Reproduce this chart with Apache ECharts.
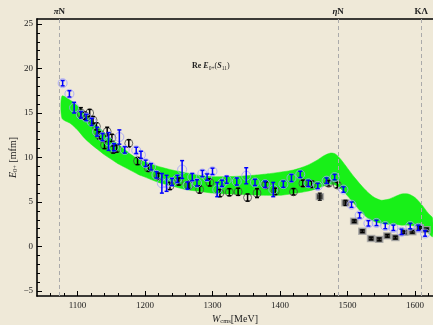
<!DOCTYPE html>
<html><head><meta charset="utf-8">
<script src="https://cdn.jsdelivr.net/npm/echarts@6/dist/echarts.min.js"></script>
<style>html,body{margin:0;padding:0;background:#efe9d8}#c{width:433px;height:325px}</style>
</head><body><div id="c"></div>
<script>
// Band (fit uncertainty) in MeV / mfm
var bandX    = [1077,1090,1100,1110,1120,1130,1140,1150,1160,1170,1180,1190,1200,1220,1240,1260,1280,1300,1320,1340,1360,1380,1400,1420,1440,1455,1465,1475,1482,1490,1500,1510,1520,1530,1540,1550,1560,1570,1580,1590,1600,1610,1620,1626];
var bandLow  = [14.4,13.8,13.1,12.2,11.5,10.9,10.3,9.8,9.3,8.9,8.5,8.1,7.8,7.2,6.8,6.4,6.2,6.0,5.9,5.85,5.8,5.75,5.75,5.95,6.2,6.5,6.8,7.0,6.9,6.5,5.7,4.8,3.9,3.2,2.8,2.6,2.5,2.5,2.4,2.4,2.3,2.0,1.5,1.1];
var bandHigh = [16.9,16.4,15.8,15.1,14.3,13.5,12.8,12.1,11.5,10.9,10.3,9.8,9.5,9.0,8.6,8.3,8.0,7.85,7.85,7.9,8.0,8.15,8.35,8.6,9.1,9.7,10.2,10.5,10.4,9.8,8.8,7.8,6.9,6.1,5.5,5.2,5.3,5.6,5.9,5.9,5.5,4.7,3.7,3.2];

// Data set A (blue): [W, E0+, error]
var blueData = [[1078,18.35,0.3],[1088,17.15,0.35],[1095,15.6,0.6],[1105,14.8,0.35],[1113,14.5,0.35],[1121,14.0,0.4],[1129,12.9,0.5],[1137,12.3,0.4],[1146,11.8,1.0],[1154,11.15,0.4],[1162,12.3,0.8],[1170,10.85,0.35],[1187,10.8,0.35],[1194,10.3,0.4],[1201,9.35,0.35],[1209,8.96,0.35],[1217,8.05,0.35],[1225,7.1,1.1],[1232,7.1,0.9],[1240,7.25,0.4],[1248,7.6,0.4],[1255,8.65,1.0],[1263,6.85,0.4],[1270,7.8,0.4],[1277,7.15,0.35],[1285,8.2,0.35],[1292,7.8,0.35],[1300,8.45,0.35],[1307,6.4,0.8],[1314,7.1,0.35],[1321,7.5,0.4],[1336,7.3,0.4],[1350,7.95,0.9],[1363,7.2,0.35],[1378,7.0,0.35],[1390,6.4,0.8],[1405,7.0,0.35],[1417,7.7,0.4],[1430,8.1,0.35],[1442,7.1,0.35],[1456,6.8,0.3],[1469,7.4,0.3],[1481,7.8,0.3],[1494,6.4,0.3],[1506,4.7,0.3],[1518,3.5,0.3],[1531,2.6,0.3],[1543,2.65,0.3],[1556,2.3,0.3],[1568,2.1,0.3],[1580,1.65,0.3],[1593,2.3,0.3],[1605,2.1,0.3],[1615,1.46,0.3]];
// Data set B (black, circles)
var blackData = [[1105,15.0,0.6],[1111,14.7,0.4],[1118,15.0,0.4],[1123,14.2,0.4],[1128,13.5,0.4],[1132,12.5,0.4],[1140,11.4,0.4],[1144,12.9,0.5],[1151,12.2,0.4],[1153,10.9,0.4],[1158,11.0,0.4],[1176,11.6,0.4],[1189,9.6,0.4],[1205,8.8,0.35],[1220,7.9,0.35],[1237,6.8,0.4],[1250,7.3,0.4],[1265,6.9,0.4],[1281,6.4,0.4],[1296,7.2,0.4],[1311,6.0,0.4],[1325,6.1,0.4],[1338,6.15,0.4],[1352,5.5,0.4],[1366,6.0,0.5],[1379,6.9,0.35],[1393,6.2,0.35],[1420,6.15,0.35],[1434,7.1,0.35],[1447,7.0,0.35],[1472,7.1,0.3],[1485,6.9,0.3]];
// Data set C (squares)
var squareData = [[1459,5.6,0.4],[1497,4.9,0.3],[1510,2.85,0.15],[1522,1.72,0.15],[1535,0.9,0.15],[1547,0.8,0.15],[1559,1.2,0.15],[1571,1.0,0.15],[1584,1.6,0.15],[1596,1.65,0.15],[1607,2.1,0.15],[1617,1.9,0.15]];

// Thresholds
var thrValues = [1073.2, 1486.1, 1609.4];
var thrNames  = ['{i|π}{b|N}', '{i|η}{b|N}', '{b|KΛ}'];

var xMajor = [1100,1200,1300,1400,1500,1600];
var yMinor = [-5,-4,-3,-2,-1,0,1,2,3,4,5,6,7,8,9,10,11,12,13,14,15,16,17,18,19,20,21,22,23,24,25];
var yMajor = [-5,0,5,10,15,20,25];

var SERIF = '"Liberation Serif","DejaVu Serif",serif';
var bandData = bandX.map(function(x,i){return [x, bandLow[i], bandHigh[i]];});

function errBar(color, w){
  return function(params, api){
    var x = api.value(0), y = api.value(1), e = api.value(2);
    var t = api.coord([x, y+e]), b = api.coord([x, y-e]);
    var c = 2;
    var st = {stroke: color, lineWidth: w};
    return {type:'group', children:[
      {type:'line', shape:{x1:t[0],y1:t[1],x2:b[0],y2:b[1]}, style:st},
      {type:'line', shape:{x1:t[0]-c,y1:t[1],x2:t[0]+c,y2:t[1]}, style:st},
      {type:'line', shape:{x1:b[0]-c,y1:b[1],x2:b[0]+c,y2:b[1]}, style:st}
    ]};
  };
}
function bandRender(params, api){
  if (params.dataIndex !== 0) return {type:'group', children:[]};
  var pts = [];
  for (var i=0;i<bandX.length;i++) pts.push(api.coord([bandX[i], bandHigh[i]]));
  for (var j=bandX.length-1;j>=0;j--) pts.push(api.coord([bandX[j], bandLow[j]]));
  return {type:'polygon', shape:{points:pts, smooth:0.25}, style:{fill:'#18f018', stroke:'#18f018', lineWidth:0.5}};
}
function xy(d){return d.map(function(p){return [p[0],p[1]];});}

var XMIN = 1040, XMAX = 1626.7, YMIN = -5.56, YMAX = 25.56;
var chart = echarts.init(document.getElementById('c'), null, {renderer:'canvas'});
chart.setOption({
  backgroundColor: '#efe9d8',
  animation: false,
  grid: {left: 37, right: 0, top: 19, bottom: 29, containLabel: false, outerBoundsMode: 'none'},
  xAxis: [
    {type:'value', min:XMIN, max:XMAX, interval:20, position:'bottom',
     axisLine:{onZero:false, lineStyle:{color:'#000', width:1.6}},
     axisTick:{inside:true, length:3, lineStyle:{color:'#000', width:1}},
     axisLabel:{formatter:function(v){return v%100===0 ? String(v) : '';}, margin:5, fontFamily:SERIF, fontSize:9, color:'#222', showMinLabel:false, showMaxLabel:false},
     splitLine:{show:false},
     name:'{i|W}{s|cms}{n|[MeV]}', nameLocation:'middle', nameGap:17, nameMoveOverlap:false,
     nameTextStyle:{fontFamily:SERIF, color:'#222', rich:{
       i:{fontFamily:SERIF, fontStyle:'italic', fontSize:10, lineHeight:12, color:'#222'},
       s:{fontFamily:SERIF, fontSize:6.5, lineHeight:6, verticalAlign:'bottom', color:'#222'},
       n:{fontFamily:SERIF, fontSize:10, lineHeight:12, color:'#222'}}}},
    {type:'value', min:XMIN, max:XMAX, position:'bottom',
     axisLine:{show:false, onZero:false}, axisLabel:{show:false}, splitLine:{show:false},
     axisTick:{show:true, inside:true, length:5, customValues:xMajor, lineStyle:{color:'#000', width:1}}},
    {type:'value', min:XMIN, max:XMAX, position:'top',
     axisLine:{onZero:false, lineStyle:{color:'#000', width:1.6}}, splitLine:{show:false},
     axisTick:{show:true, inside:true, length:4, customValues:thrValues, lineStyle:{color:'#000'}},
     axisLabel:{show:true, customValues:thrValues, margin:3,
       formatter:function(v){var i = thrValues.indexOf(v); return i>=0 ? thrNames[i] : '';},
       rich:{i:{fontFamily:SERIF, fontStyle:'italic', fontWeight:'bold', fontSize:9, color:'#222'},
             b:{fontFamily:SERIF, fontWeight:'bold', fontSize:9, color:'#222'}}}}
  ],
  yAxis: [
    {type:'value', min:YMIN, max:YMAX, position:'left',
     axisLine:{show:true, onZero:false, lineStyle:{color:'#000', width:1.6}},
     axisTick:{show:true, inside:true, length:3, customValues:yMinor, lineStyle:{color:'#000'}},
     axisLabel:{show:true, customValues:yMajor, margin:4, fontFamily:SERIF, fontSize:9, color:'#222',
       formatter:function(v){return v<0 ? '\u2212'+Math.abs(v) : String(v);}},
     splitLine:{show:false},
     name:'{i|E}{s|0+}{n| [mfm]}', nameLocation:'middle', nameGap:18, nameRotate:90, nameMoveOverlap:false,
     nameTextStyle:{fontFamily:SERIF, color:'#222', rich:{
       i:{fontFamily:SERIF, fontStyle:'italic', fontSize:10, lineHeight:12, color:'#222'},
       s:{fontFamily:SERIF, fontSize:6.5, lineHeight:6, verticalAlign:'bottom', color:'#222'},
       n:{fontFamily:SERIF, fontSize:10, lineHeight:12, color:'#222'}}}},
    {type:'value', min:YMIN, max:YMAX, position:'left',
     axisLine:{show:false, onZero:false}, axisLabel:{show:false}, splitLine:{show:false},
     axisTick:{show:true, inside:true, length:5, customValues:yMajor, lineStyle:{color:'#000'}}}
  ],
  graphic: [
    {type:'text', left:192, top:62, z:10, style:{
      text:'{b|Re }{i|E}{s|0+}{n|(}{i|S}{s|11}{n|)}',
      rich:{
        b:{fontFamily:SERIF, fontWeight:'bold', fontSize:8, lineHeight:11, fill:'#222'},
        i:{fontFamily:SERIF, fontStyle:'italic', fontWeight:'bold', fontSize:8, lineHeight:11, fill:'#222'},
        s:{fontFamily:SERIF, fontSize:5.5, lineHeight:5, verticalAlign:'bottom', fill:'#222'},
        n:{fontFamily:SERIF, fontSize:8, lineHeight:11, fill:'#222'}}}}
  ],
  series: [
    {type:'custom', data:bandData, renderItem:bandRender, encode:{x:0, y:[1,2]}, silent:true, clip:true, z:1,
     markLine:{silent:true, symbol:'none', label:{show:false},
       lineStyle:{type:[4,3], color:'#aaa', width:1},
       data: thrValues.map(function(v){return {xAxis:v};})}},
    {type:'scatter', data:xy(blackData), symbol:'circle', symbolSize:8,
     itemStyle:{color:'rgba(0,0,0,0)', borderColor:'#4a4a4a', borderWidth:1}, z:3},
    {type:'custom', data:blackData, renderItem:errBar('#000', 1.5), encode:{x:0, y:1}, z:4},
    {type:'scatter', data:xy(squareData), symbol:'rect', symbolSize:[7,6],
     itemStyle:{color:'#111', borderColor:'#a8a8a8', borderWidth:1.5}, z:3},
    {type:'custom', data:squareData, renderItem:errBar('#000', 1.2), encode:{x:0, y:1}, z:4},
    {type:'scatter', data:xy(blueData), symbol:'circle', symbolSize:9,
     itemStyle:{color:'rgba(0,0,0,0)', borderColor:'#a0a0ff', borderWidth:1}, z:5},
    {type:'custom', data:blueData, renderItem:errBar('#0000ff', 1.5), encode:{x:0, y:1}, z:6}
  ]
});
</script></body></html>
